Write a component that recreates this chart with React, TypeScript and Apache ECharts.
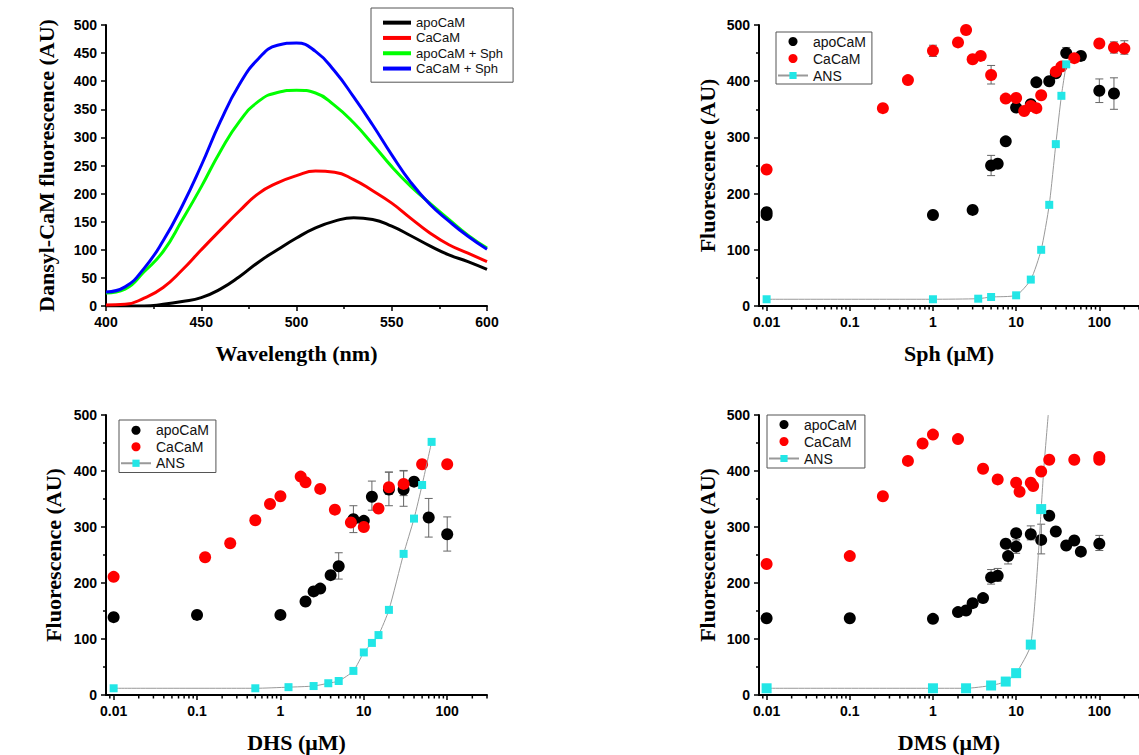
import React, { useEffect, useRef } from 'react';
import * as echarts from 'echarts';

// ---------- Panel A: emission spectra ----------
const wavelengths = [400, 410, 420, 430, 440, 450, 460, 470, 480, 490, 500, 510, 520, 530, 540, 550, 560, 570, 580, 590, 600];
const specApoCaM = [0, 0, 0, 3, 8, 15, 30, 52, 78, 100, 121, 139, 151, 157, 154, 142, 125, 107, 91, 79, 65];
const specCaCaM = [2, 3, 14, 33, 64, 100, 135, 169, 200, 219, 232, 240, 238, 225, 205, 183, 156, 130, 109, 94, 79];
const specApoSph = [23, 30, 61, 97, 153, 212, 275, 328, 364, 380, 384, 379, 357, 326, 288, 248, 213, 183, 154, 126, 103];
const specCaSph = [25, 34, 67, 116, 178, 250, 328, 394, 440, 464, 468, 453, 418, 372, 322, 269, 220, 181, 151, 124, 101];

// ---------- Panel B: Sph ----------
const sphApoX = [0.01, 0.01, 1, 3, 5, 6, 7.5, 10, 15, 17.5, 25, 30, 40, 60, 100, 150];
const sphApoY = [162, 167, 162, 171, 250, 253, 293, 353, 359, 398, 400, 414, 450, 445, 383, 378];
const sphCaX = [0.01, 0.25, 0.5, 1, 2, 2.5, 3, 3.75, 5, 7.5, 10, 12.5, 15, 17.5, 20, 30, 35, 50, 100, 150, 200];
const sphCaY = [243, 352, 402, 454, 469, 491, 439, 445, 411, 369, 370, 347, 356, 352, 375, 417, 426, 441, 467, 460, 458];
const sphAnsX = [0.01, 1, 3.5, 5, 10, 15, 20, 25, 30, 35, 40];
const sphAnsY = [12, 12, 13, 16, 19, 47, 100, 180, 288, 374, 430];
const sphApoErr = [[5, 232, 268], [40, 443, 460], [100, 362, 404], [150, 350, 406]];
const sphCaErr = [[1, 444, 464], [5, 395, 428], [150, 450, 470], [200, 448, 472]];

// ---------- Panel C: DHS ----------
const dhsApoX = [0.01, 0.1, 1, 2, 2.5, 3, 4, 5, 7.5, 10, 12.5, 20, 30, 40, 60, 100];
const dhsApoY = [139, 143, 143, 167, 185, 190, 214, 230, 314, 311, 354, 367, 367, 381, 317, 287];
const dhsCaX = [0.01, 0.125, 0.25, 0.5, 0.75, 1, 1.75, 2, 3, 4.5, 7, 10, 15, 20, 30, 50, 100];
const dhsCaY = [211, 246, 271, 312, 341, 355, 390, 380, 368, 331, 308, 300, 333, 371, 377, 412, 412];
const dhsAnsX = [0.01, 0.5, 1.25, 2.5, 3.75, 5, 7.5, 10, 12.5, 15, 20, 30, 40, 50, 65];
const dhsAnsY = [12, 12, 14, 16, 21, 25, 43, 76, 93, 107, 152, 252, 315, 375, 452];
const dhsApoErr = [[5, 207, 254], [7.5, 290, 338], [12.5, 330, 382], [20, 338, 398], [30, 337, 401], [60, 282, 351], [100, 257, 318]];
const dhsCaErr = [[20, 358, 398], [30, 356, 400]];

// ---------- Panel D: DMS ----------
const dmsApoX = [0.01, 0.1, 1, 2, 2.5, 3, 4, 5, 6, 7.5, 8, 10, 10, 15, 20, 25, 30, 40, 50, 60, 100];
const dmsApoY = [137, 137, 136, 148, 151, 164, 173, 210, 213, 270, 248, 289, 265, 287, 277, 320, 292, 267, 276, 256, 270];
const dmsCaX = [0.01, 0.1, 0.25, 0.5, 0.75, 1, 2, 4, 6, 10, 11, 15, 16, 20, 25, 50, 100, 100];
const dmsCaY = [234, 248, 355, 418, 449, 465, 457, 404, 385, 379, 363, 379, 373, 399, 420, 420, 420, 425];
const dmsAnsX = [0.01, 1, 2.5, 5, 7.5, 10, 15, 20];
const dmsAnsY = [12, 12, 12, 17, 24, 39, 90, 332];
const dmsFitX = [20, 21.6, 24.3];
const dmsFitY = [332, 408, 500];
const dmsApoErr = [[5, 198, 224], [6, 203, 226], [8, 234, 262], [10, 253, 277], [15, 277, 302], [20, 252, 305], [100, 258, 285]];

// minor tick positions on the log axes
const logMinorTicks = [0.009, 0.02, 0.03, 0.04, 0.05, 0.06, 0.07, 0.08, 0.09, 0.2, 0.3, 0.4, 0.5, 0.6, 0.7, 0.8, 0.9,
  2, 3, 4, 5, 6, 7, 8, 9, 20, 30, 40, 50, 60, 70, 80, 90, 200, 300];

const SANS = 'Liberation Sans, Arial, sans-serif';
const SERIF = 'Liberation Serif, Times New Roman, serif';
const CYAN = '#22e6e6';
const RED = '#ff0000';

const pts = (xs: number[], ys: number[]) => xs.map((x, i) => [x, ys[i]]);

const fmtLog = (v: number) => {
  const l = Math.log10(v);
  const r = Math.round(l);
  if (Math.abs(l - r) > 1e-6) return '';
  return r < 0 ? v.toFixed(-r) : String(Math.round(v));
};

const titleStyle = { fontFamily: SERIF, fontWeight: 'bold', fontSize: 22, color: '#000' };
const labelStyle = { fontFamily: SANS, fontWeight: 'bold', fontSize: 14, color: '#000' };
const axisLine = { show: true, lineStyle: { color: '#000', width: 2 } };
const axisTick = { show: true, length: 5, lineStyle: { color: '#000', width: 1.5 } };

const logXAxis = (gridIndex: number, name: string) => ({
  type: 'log', gridIndex, min: 0.0081, max: 300, logBase: 10,
  axisLine, axisTick,
  axisLabel: { ...labelStyle, formatter: fmtLog, margin: 9, showMinLabel: false, showMaxLabel: false },
  splitLine: { show: false },
  name, nameLocation: 'middle', nameGap: 36, nameTextStyle: titleStyle,
});

const fluorYAxis = (gridIndex: number, nameGap: number) => ({
  type: 'value', gridIndex, min: 0, max: 500, interval: 100,
  axisLine, axisTick,
  minorTick: { show: true, splitNumber: 2, length: 3, lineStyle: { color: '#000', width: 1.5 } },
  axisLabel: { ...labelStyle, margin: 9 },
  splitLine: { show: false }, minorSplitLine: { show: false },
  name: 'Fluorescence (AU)', nameLocation: 'middle', nameGap, nameTextStyle: titleStyle,
});

const errorRender = (params: any, api: any) => {
  const x = api.value(0);
  const lo = api.coord([x, api.value(1)]);
  const hi = api.coord([x, api.value(2)]);
  const w = 4;
  const style = { stroke: '#666', lineWidth: 1 };
  return {
    type: 'group',
    children: [
      { type: 'line', shape: { x1: lo[0], y1: lo[1], x2: hi[0], y2: hi[1] }, style },
      { type: 'line', shape: { x1: lo[0] - w, y1: lo[1], x2: lo[0] + w, y2: lo[1] }, style },
      { type: 'line', shape: { x1: hi[0] - w, y1: hi[1], x2: hi[0] + w, y2: hi[1] }, style },
    ],
  };
};

const minorTickRender = (params: any, api: any) => {
  const p = api.coord([api.value(0), 0]);
  return { type: 'line', shape: { x1: p[0], y1: p[1], x2: p[0], y2: p[1] + 3.5 }, style: { stroke: '#000', lineWidth: 1.5 } };
};

const errSeries = (idx: number, data: number[][]) => ({
  type: 'custom', xAxisIndex: idx, yAxisIndex: idx, renderItem: errorRender, data,
  encode: { x: 0, y: [1, 2] }, z: 1, silent: true,
});

const minorSeries = (idx: number) => ({
  type: 'custom', xAxisIndex: idx, yAxisIndex: idx, renderItem: minorTickRender,
  data: logMinorTicks.map((v) => [v, 0]), encode: { x: 0, y: 1 }, z: 1, silent: true, clip: false,
});

const scatter = (idx: number, name: string, color: string, data: number[][]) => ({
  type: 'scatter', name, xAxisIndex: idx, yAxisIndex: idx, data, symbol: 'circle', symbolSize: 12,
  itemStyle: { color, opacity: 1 }, z: 2,
});

const ans = (idx: number, data: number[][], size: number) => ({
  type: 'line', name: 'ANS', xAxisIndex: idx, yAxisIndex: idx, data, symbol: 'rect', symbolSize: size,
  showSymbol: true, smooth: 0.2, itemStyle: { color: CYAN, opacity: 1 }, lineStyle: { color: '#999', width: 1 }, z: 3,
});

const spec = (name: string, color: string, ys: number[]) => ({
  type: 'line', name, xAxisIndex: 0, yAxisIndex: 0, data: pts(wavelengths, ys), symbol: 'none',
  smooth: 0.5,
  itemStyle: { color }, lineStyle: { color, width: 3 }, z: 2,
});

const dotLegend = (left: number, top: number, padding: number[], lineHeight: number) => ({
  orient: 'vertical', left, top, padding, itemGap: 0, itemWidth: 30, itemHeight: 9,
  borderColor: '#555', borderWidth: 1, selectedMode: false,
  textStyle: { fontFamily: SANS, fontSize: 14, lineHeight, color: '#111' },
  data: [{ name: 'apoCaM', icon: 'circle' }, { name: 'CaCaM', icon: 'circle' }, { name: 'ANS' }],
});

const option = {
  animation: false,
  backgroundColor: '#fff',
  grid: [
    { left: 106, top: 25, width: 381, height: 281 },
    { left: 759, top: 25, width: 380, height: 281 },
    { left: 106, top: 415, width: 381, height: 280 },
    { left: 759, top: 415, width: 380, height: 280 },
  ],
  xAxis: [
    {
      type: 'value', gridIndex: 0, min: 400, max: 600, interval: 50,
      axisLine, axisTick,
      minorTick: { show: true, splitNumber: 2, length: 3, lineStyle: { color: '#000', width: 1.5 } },
      axisLabel: { ...labelStyle, margin: 9 },
      splitLine: { show: false }, minorSplitLine: { show: false },
      name: 'Wavelength (nm)', nameLocation: 'middle', nameGap: 36, nameTextStyle: titleStyle,
    },
    logXAxis(1, 'Sph (μM)'),
    logXAxis(2, 'DHS (μM)'),
    logXAxis(3, 'DMS (μM)'),
  ],
  yAxis: [
    {
      type: 'value', gridIndex: 0, min: 0, max: 500, interval: 50,
      axisLine, axisTick,
      axisLabel: { ...labelStyle, margin: 9 },
      splitLine: { show: false },
      name: 'Dansyl-CaM fluorescence (AU)', nameLocation: 'middle', nameGap: 49, nameTextStyle: titleStyle,
    },
    fluorYAxis(1, 41),
    fluorYAxis(2, 42),
    fluorYAxis(3, 41),
  ],
  legend: [
    {
      orient: 'vertical', left: 371, top: 8, padding: [7, 10, 6, 12], itemGap: 0, itemWidth: 28, itemHeight: 4,
      icon: 'rect', borderColor: '#555', borderWidth: 1, selectedMode: false,
      textStyle: { fontFamily: SANS, fontSize: 13, lineHeight: 15.3, color: '#111' },
      data: ['apoCaM', 'CaCaM', 'apoCaM + Sph', 'CaCaM + Sph'],
    },
    dotLegend(776, 32, [1, 6, 0, 1], 17),
    dotLegend(119, 420, [2, 7, 1, 1], 16.5),
    dotLegend(767, 415, [1, 8, 1, 1], 17),
  ],
  series: [
    spec('apoCaM', '#000000', specApoCaM),
    spec('CaCaM', RED, specCaCaM),
    spec('apoCaM + Sph', '#00ff00', specApoSph),
    spec('CaCaM + Sph', '#0000ff', specCaSph),

    minorSeries(1),
    errSeries(1, sphApoErr),
    errSeries(1, sphCaErr),
    scatter(1, 'apoCaM', '#000000', pts(sphApoX, sphApoY)),
    scatter(1, 'CaCaM', RED, pts(sphCaX, sphCaY)),
    ans(1, pts(sphAnsX, sphAnsY), 8),

    minorSeries(2),
    errSeries(2, dhsApoErr),
    errSeries(2, dhsCaErr),
    scatter(2, 'apoCaM', '#000000', pts(dhsApoX, dhsApoY)),
    scatter(2, 'CaCaM', RED, pts(dhsCaX, dhsCaY)),
    ans(2, pts(dhsAnsX, dhsAnsY), 8),

    minorSeries(3),
    errSeries(3, dmsApoErr),
    scatter(3, 'apoCaM', '#000000', pts(dmsApoX, dmsApoY)),
    scatter(3, 'CaCaM', RED, pts(dmsCaX, dmsCaY)),
    {
      type: 'line', name: 'ANS fit', xAxisIndex: 3, yAxisIndex: 3, data: pts(dmsFitX, dmsFitY),
      symbol: 'none', smooth: 0.2, lineStyle: { color: '#999', width: 1 }, itemStyle: { color: '#999' }, z: 2, silent: true,
    },
    ans(3, pts(dmsAnsX, dmsAnsY), 10),
  ],
};

export default function App() {
  const ref = useRef<HTMLDivElement>(null);
  useEffect(() => {
    if (!ref.current) return;
    const chart = echarts.init(ref.current, undefined, { renderer: 'svg' });
    chart.setOption(option as any);
    return () => chart.dispose();
  }, []);
  return (
    <div
      ref={ref}
      style={{ position: 'absolute', left: 0, top: 0, width: 1139, height: 755, background: '#fff' }}
    />
  );
}
